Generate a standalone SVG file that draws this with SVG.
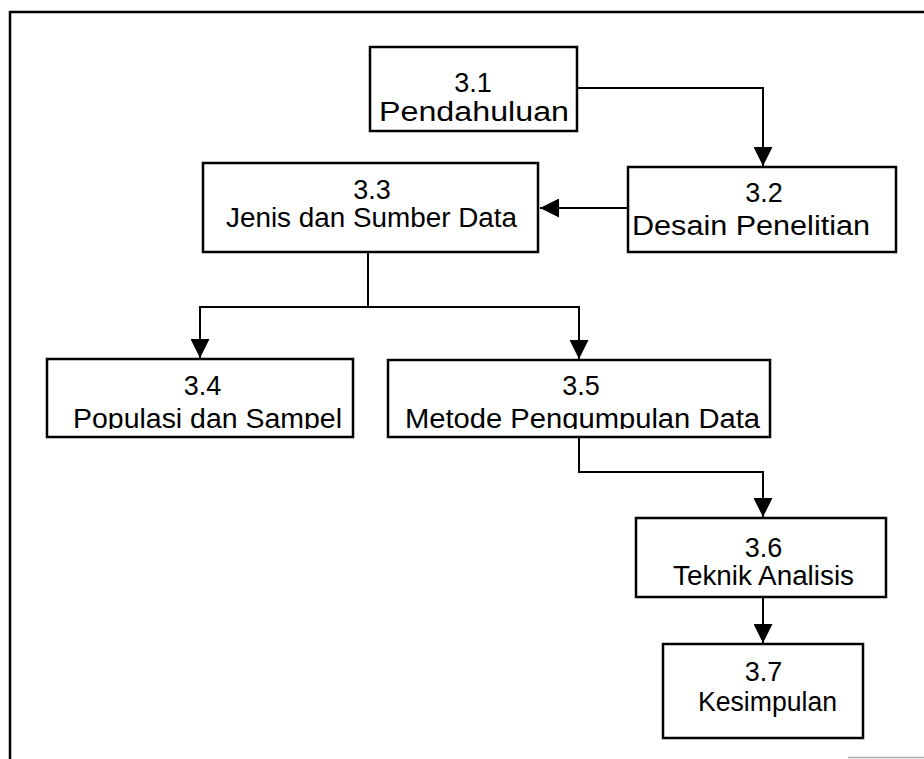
<svg xmlns="http://www.w3.org/2000/svg" width="924" height="759" viewBox="0 0 924 759">
  <style>
    .box { fill: #fff; stroke: #000; stroke-width: 2.5; }
    .lbl { font-family: "Liberation Sans", Arial, sans-serif; font-size: 27px; fill: #000; text-anchor: middle; }
    .wire { fill: none; stroke: #000; stroke-width: 2; }
  </style>
  <defs>
    <marker id="arrow" viewBox="0 0 10 10" refX="10" refY="5" markerWidth="19" markerHeight="19" markerUnits="userSpaceOnUse" orient="auto">
      <path d="M0,0 L10,5 L0,10 z" fill="#000"/>
    </marker>
    <clipPath id="clip34"><rect x="47" y="359" width="306" height="70"/></clipPath>
    <clipPath id="clip35"><rect x="388" y="359" width="382" height="70"/></clipPath>
  </defs>

  <rect width="924" height="759" fill="#fff"/>

  <!-- page frame: left and top rules -->
  <path d="M10,759 V12 H924" fill="none" stroke="#000" stroke-width="2.5"/>
  <line x1="848" y1="757.5" x2="924" y2="757.5" stroke="#aaa" stroke-width="1.5"/>

  <g id="connectors">
    <path class="wire" d="M577,88 H763 V166" marker-end="url(#arrow)"/>
    <path class="wire" d="M628,208 H540" marker-end="url(#arrow)"/>
    <path class="wire" d="M368,252 V307"/>
    <path class="wire" d="M368,307 H200 V358" marker-end="url(#arrow)"/>
    <path class="wire" d="M368,307 H579 V359" marker-end="url(#arrow)"/>
    <path class="wire" d="M579,437 V472 H763 V517" marker-end="url(#arrow)"/>
    <path class="wire" d="M763,597 V643" marker-end="url(#arrow)"/>
  </g>

  <g id="node-3-1">
    <rect class="box" x="370" y="47" width="207" height="84"/>
    <text class="lbl" x="473" y="92">3.1</text>
    <text class="lbl" x="474" y="121" textLength="190" lengthAdjust="spacingAndGlyphs">Pendahuluan</text>
  </g>

  <g id="node-3-2">
    <rect class="box" x="628" y="167" width="268" height="85"/>
    <text class="lbl" x="764" y="202">3.2</text>
    <text class="lbl" x="751" y="235" textLength="238" lengthAdjust="spacingAndGlyphs">Desain Penelitian</text>
  </g>

  <g id="node-3-3">
    <rect class="box" x="203" y="163" width="335" height="89"/>
    <text class="lbl" x="372" y="199">3.3</text>
    <text class="lbl" x="371.5" y="227" textLength="291" lengthAdjust="spacingAndGlyphs">Jenis dan Sumber Data</text>
  </g>

  <g id="node-3-4">
    <rect class="box" x="47" y="359" width="306" height="78"/>
    <text class="lbl" x="202.5" y="395">3.4</text>
    <text class="lbl" x="207.5" y="428" textLength="269" lengthAdjust="spacingAndGlyphs" clip-path="url(#clip34)">Populasi dan Sampel</text>
  </g>

  <g id="node-3-5">
    <rect class="box" x="388" y="360" width="382" height="77"/>
    <text class="lbl" x="581" y="395">3.5</text>
    <text class="lbl" x="582.5" y="428" textLength="355" lengthAdjust="spacingAndGlyphs" clip-path="url(#clip35)">Metode Pengumpulan Data</text>
  </g>

  <g id="node-3-6">
    <rect class="box" x="636" y="518" width="250" height="79"/>
    <text class="lbl" x="763.5" y="557">3.6</text>
    <text class="lbl" x="763.5" y="585" textLength="181" lengthAdjust="spacingAndGlyphs">Teknik Analisis</text>
  </g>

  <g id="node-3-7">
    <rect class="box" x="663" y="644" width="200" height="94"/>
    <text class="lbl" x="763.5" y="681">3.7</text>
    <text class="lbl" x="767.5" y="711" textLength="139" lengthAdjust="spacingAndGlyphs">Kesimpulan</text>
  </g>
</svg>
